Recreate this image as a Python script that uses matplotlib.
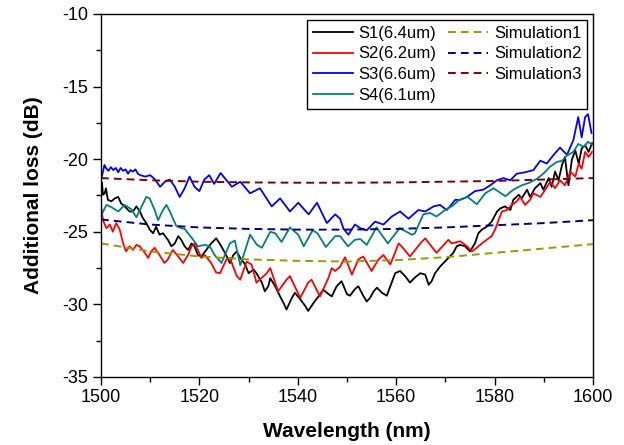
import matplotlib

matplotlib.use("Agg")
import matplotlib.pyplot as plt
from matplotlib.ticker import MultipleLocator

plt.rcParams["font.family"] = ["Liberation Sans", "DejaVu Sans"]
plt.rcParams["axes.unicode_minus"] = False

# S1 (black)
s1_wl = [
    1500.0, 1500.2, 1500.4, 1500.75, 1501.0, 1501.4, 1502.1, 1502.8, 1503.5, 1504.1,
    1504.8, 1505.8, 1506.5, 1507.2, 1507.9, 1508.5, 1509.2, 1509.9, 1510.6, 1511.2,
    1511.9, 1512.6, 1513.6, 1514.3, 1515.0, 1515.7, 1516.3, 1517.0, 1517.7, 1518.4,
    1519.0, 1519.7, 1520.4, 1521.4, 1522.4, 1523.4, 1524.1, 1525.2, 1526.2, 1526.9,
    1527.6, 1528.3, 1529.3, 1530.0, 1531.0, 1531.6, 1532.7, 1533.3, 1534.0, 1534.4,
    1535.4, 1536.4, 1537.1, 1537.7, 1538.8, 1539.4, 1540.5, 1541.5, 1542.1, 1543.2,
    1544.2, 1545.2, 1545.9, 1546.9, 1547.9, 1548.9, 1550.0, 1550.6, 1551.6, 1552.3,
    1553.3, 1554.0, 1554.7, 1555.4, 1556.1, 1557.1, 1558.1, 1558.8, 1559.8, 1560.8,
    1561.8, 1562.8, 1563.8, 1564.9, 1565.9, 1566.6, 1567.2, 1567.9, 1568.9, 1569.9,
    1570.9, 1571.6, 1572.3, 1573.0, 1574.0, 1575.0, 1576.0, 1576.7, 1577.4, 1578.4,
    1579.4, 1580.5, 1581.1, 1582.1, 1583.2, 1583.8, 1584.9, 1585.5, 1586.6, 1587.2,
    1588.2, 1589.3, 1589.9, 1591.0, 1591.6, 1592.3, 1593.0, 1593.7, 1594.3, 1595.0,
    1595.7, 1596.4, 1597.1, 1597.7, 1598.4, 1599.1, 1599.8,
]
s1_loss = [
    -22.1, -21.6, -22.45, -22.35, -22.0, -22.8, -22.9, -22.7, -22.6, -23.05,
    -23.25, -23.6, -23.6, -23.25, -23.6, -24.05, -24.4, -24.85, -25.1, -24.65,
    -25.2, -25.1, -25.55, -26.0, -25.8, -25.3, -25.55, -26.0, -26.25, -25.8,
    -26.0, -26.6, -26.7, -26.25, -25.8, -25.45, -25.8, -26.45, -27.15, -26.6,
    -26.35, -26.8, -27.25, -27.85, -27.6, -27.85, -28.5, -29.1, -28.75, -28.2,
    -28.75, -29.45, -29.9, -30.35, -29.55, -29.2, -29.65, -30.1, -30.45, -29.9,
    -29.45, -29.0, -29.2, -29.45, -28.75, -28.4, -29.3, -29.4, -28.95, -28.75,
    -29.4, -29.8, -29.55, -29.1, -28.85, -29.2, -29.4, -28.75, -27.85, -27.7,
    -28.05, -28.5, -28.15, -27.85, -27.95, -28.65, -28.4, -27.85, -27.4, -27.05,
    -26.7, -26.45, -26.0, -25.9, -26.0, -26.35, -25.8, -25.1, -24.85, -24.65,
    -24.3, -23.6, -23.4, -23.25, -23.5, -22.8, -22.45, -22.7, -22.1, -22.6,
    -22.0, -21.65, -22.1, -21.3, -21.9, -20.85, -21.45, -20.4, -19.85, -21.8,
    -20.05, -19.4, -20.3, -19.25, -19.05, -19.5, -18.9,
]

# S2 (red)
s2_wl = [
    1500.0, 1500.4, 1501.1, 1501.8, 1502.4, 1503.1, 1503.8, 1504.5, 1505.1, 1505.8,
    1506.5, 1507.2, 1507.9, 1508.9, 1509.6, 1510.2, 1510.9, 1511.9, 1512.9, 1513.6,
    1514.6, 1515.7, 1516.7, 1517.7, 1518.4, 1519.0, 1519.7, 1520.4, 1521.1, 1522.4,
    1523.4, 1524.2, 1525.5, 1526.2, 1527.6, 1528.3, 1529.6, 1530.6, 1531.6, 1533.7,
    1534.4, 1536.0, 1537.7, 1538.4, 1540.5, 1542.1, 1542.8, 1544.5, 1546.2, 1546.9,
    1547.6, 1548.6, 1549.6, 1551.0, 1552.3, 1553.3, 1555.0, 1556.4, 1557.4, 1558.8,
    1560.5, 1561.1, 1562.8, 1564.9, 1565.9, 1568.2, 1570.6, 1571.3, 1573.0, 1574.4,
    1575.4, 1576.4, 1577.4, 1578.4, 1579.4, 1580.1, 1580.8, 1581.5, 1582.5, 1583.5,
    1584.5, 1585.2, 1586.2, 1587.2, 1587.9, 1589.3, 1590.3, 1591.3, 1592.3, 1593.3,
    1594.3, 1595.4, 1596.4, 1597.1, 1597.7, 1598.4, 1599.1, 1599.8,
]
s2_loss = [
    -23.15, -24.2, -24.75, -24.5, -25.0, -24.4, -24.85, -25.8, -26.35, -26.0,
    -26.25, -25.9, -26.0, -26.45, -26.8, -26.35, -26.1, -26.6, -27.15, -26.9,
    -26.25, -26.7, -27.15, -26.6, -26.0, -25.8, -26.25, -26.8, -26.6, -27.15,
    -27.8, -27.85, -26.9, -26.8, -28.05, -28.3, -27.05, -27.25, -28.5, -27.85,
    -27.5, -29.1, -28.3, -28.05, -29.55, -28.5, -28.3, -29.45, -28.2, -27.5,
    -27.7, -27.4, -26.75, -27.95, -26.9, -26.7, -27.7, -26.9, -26.6, -27.25,
    -25.8, -26.0, -26.7, -25.8, -25.45, -26.45, -25.55, -25.8, -25.65, -26.0,
    -26.35, -26.1, -25.8, -25.55, -25.3, -24.85, -24.2, -23.6, -23.5, -23.15,
    -22.9, -22.6, -23.15, -22.8, -22.35, -22.6, -22.1, -21.55, -22.0, -21.45,
    -21.8, -20.85, -21.2, -20.3, -20.65, -19.5, -19.85, -19.5,
]

# S3 (blue)
s3_wl = [
    1500.0, 1500.3, 1500.7, 1501.0, 1501.5, 1502.0, 1502.5, 1503.0, 1503.5, 1504.0,
    1504.5, 1505.0, 1505.5, 1506.0, 1506.5, 1507.0, 1507.5, 1508.0, 1509.0, 1510.0,
    1511.0, 1512.0, 1513.0, 1514.0, 1515.0, 1516.0, 1517.0, 1518.0, 1519.0, 1520.0,
    1521.0, 1522.0, 1523.0, 1524.3, 1526.6, 1528.3, 1530.3, 1532.3, 1534.7, 1536.4,
    1538.4, 1540.1, 1542.2, 1543.9, 1545.9, 1547.6, 1548.6, 1549.3, 1550.3, 1551.6,
    1552.7, 1554.0, 1555.7, 1557.4, 1559.1, 1560.8, 1562.5, 1564.5, 1565.9, 1567.6,
    1568.9, 1570.3, 1572.0, 1573.0, 1574.4, 1576.0, 1577.7, 1579.1, 1580.5, 1581.8,
    1583.2, 1584.5, 1586.2, 1587.9, 1589.3, 1590.6, 1592.0, 1593.3, 1594.7, 1596.0,
    1597.0, 1597.7, 1598.4, 1599.0, 1599.7,
]
s3_loss = [
    -21.4, -21.0, -20.4, -20.6, -20.8, -20.55, -20.75, -20.6, -20.9, -20.6,
    -20.8, -20.7, -21.0, -20.75, -20.85, -20.7, -21.0, -21.1, -21.2, -21.1,
    -21.4, -21.9, -21.55, -21.4, -21.9, -22.6, -22.0, -21.2, -21.9, -22.2,
    -21.4, -21.1, -21.7, -20.95, -21.9, -21.55, -22.35, -22.0, -23.25, -22.7,
    -23.6, -23.0, -23.8, -23.0, -24.4, -23.8, -24.1, -24.8, -25.2, -24.5,
    -24.75, -24.9, -24.3, -24.5, -23.95, -23.6, -24.1, -23.5, -23.6, -23.25,
    -23.15, -23.5, -22.8, -22.8, -22.6, -22.2, -22.1, -21.8, -21.45, -21.3,
    -21.45, -21.0, -20.9, -20.75, -20.1, -20.3, -19.7, -19.2, -19.7, -18.7,
    -17.1, -18.5, -17.1, -16.9, -18.2,
]

# S4 (teal)
s4_wl = [
    1500.0, 1501.1, 1502.1, 1503.5, 1504.8, 1506.2, 1507.2, 1508.2, 1509.2, 1509.9,
    1510.9, 1511.6, 1512.6, 1513.3, 1514.0, 1515.3, 1516.3, 1517.0, 1518.4, 1519.7,
    1521.1, 1522.1, 1523.1, 1524.5, 1525.3, 1526.2, 1527.2, 1528.3, 1529.0, 1530.3,
    1531.7, 1532.7, 1534.4, 1535.4, 1536.7, 1538.4, 1540.1, 1541.2, 1543.0, 1544.0,
    1545.7, 1547.6, 1548.6, 1550.2, 1551.6, 1552.7, 1554.0, 1556.0, 1558.3, 1560.7,
    1563.2, 1563.8, 1565.5, 1566.9, 1568.2, 1569.9, 1571.5, 1572.8, 1574.5, 1576.4,
    1578.1, 1579.8, 1581.1, 1582.2, 1583.8, 1585.5, 1587.2, 1588.6, 1589.9, 1591.3,
    1592.6, 1593.7, 1594.7, 1596.0, 1597.0, 1598.1, 1599.0, 1599.8,
]
s4_loss = [
    -23.9, -23.15, -23.3, -23.6, -23.15, -23.45, -24.0, -23.3, -22.6, -22.7,
    -23.5, -24.2, -23.5, -23.15, -23.6, -24.6, -24.75, -24.8, -25.4, -26.0,
    -25.9, -26.0, -26.6, -27.15, -26.5, -25.8, -25.6, -27.3, -26.6, -25.2,
    -25.9, -26.1, -25.0, -25.1, -25.7, -24.7, -25.2, -26.0, -24.9, -25.1,
    -26.05, -25.3, -25.3, -26.0, -25.55, -25.5, -25.9, -24.7, -25.8, -24.75,
    -25.2, -25.1, -23.8, -23.7, -23.95, -23.5, -23.2, -22.8, -22.6, -23.1,
    -22.35, -22.0, -22.3, -22.55, -22.1, -21.8, -21.6, -21.35, -21.0, -20.5,
    -20.2, -20.1, -19.75, -19.5, -18.95, -19.15, -18.8, -19.0,
]

# simulations
sim_wl = [1500, 1510, 1520, 1530, 1540, 1550, 1560, 1570, 1580, 1590, 1600]
sim1 = [-25.8, -26.35, -26.7, -26.9, -27.0, -27.05, -26.95, -26.75, -26.45, -26.15, -25.85]
sim2 = [-24.15, -24.5, -24.7, -24.8, -24.85, -24.85, -24.8, -24.7, -24.55, -24.4, -24.2]
sim3 = [-21.3, -21.45, -21.55, -21.6, -21.62, -21.62, -21.6, -21.55, -21.5, -21.4, -21.3]

fig = plt.figure(figsize=(6.24, 4.45), dpi=100)
ax = fig.add_axes([101 / 624, 1 - 377 / 445, 492 / 624, 363 / 445])

lw = 1.3
ax.plot(s1_wl, s1_loss, color="black", lw=lw, label="S1(6.4um)")
ax.plot(s2_wl, s2_loss, color="#ff0000", lw=lw, label="S2(6.2um)")
ax.plot(s3_wl, s3_loss, color="#0000ff", lw=lw, label="S3(6.6um)")
ax.plot(s4_wl, s4_loss, color="#008080", lw=lw, label="S4(6.1um)")

dash = (4.0, 2.6)
ax.plot(sim_wl, sim1, color="#999900", lw=1.4, dashes=dash, label="Simulation1")
ax.plot(sim_wl, sim2, color="#000080", lw=1.4, dashes=dash, label="Simulation2")
ax.plot(sim_wl, sim3, color="#800000", lw=1.4, dashes=dash, label="Simulation3")

ax.set_xlim(1500, 1600)
ax.set_ylim(-35, -10)
ax.xaxis.set_major_locator(MultipleLocator(20))
ax.xaxis.set_minor_locator(MultipleLocator(10))
ax.yaxis.set_major_locator(MultipleLocator(5))
ax.yaxis.set_minor_locator(MultipleLocator(2.5))
ax.tick_params(which="both", direction="out", width=1.0, labelsize=13, top=False, right=False)
ax.tick_params(which="major", length=5.5)
ax.tick_params(which="minor", length=3.5)
for sp in ax.spines.values():
    sp.set_linewidth(1.0)

ax.set_xlabel("Wavelength (nm)", fontsize=15, fontweight="bold", labelpad=11)
ax.set_ylabel("Additional loss (dB)", fontsize=15, fontweight="bold", labelpad=14)

leg = ax.legend(
    loc="upper right", ncol=2, fontsize=12, handlelength=2.4, handletextpad=0.35,
    columnspacing=0.7, labelspacing=0.35, borderaxespad=0.35, borderpad=0.35,
    fancybox=False, framealpha=1.0, edgecolor="black",
)
leg.get_frame().set_linewidth(1.0)

fig.savefig("out.png", dpi=100)
